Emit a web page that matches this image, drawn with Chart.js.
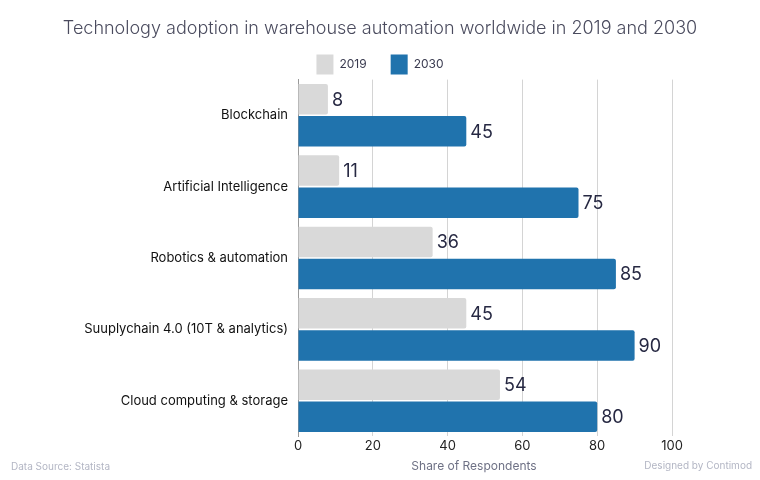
<!DOCTYPE html>
<html>
<head>
<meta charset="utf-8">
<script src="https://cdn.jsdelivr.net/npm/chart.js@4"></script>
<style>
  html, body { margin: 0; padding: 0; background: #fff; }
  #wrap { width: 760px; height: 480px; position: relative; }
</style>
</head>
<body>
<div id="wrap"><canvas id="main-chart"></canvas></div>
<script>
const categories = ['Blockchain', 'Artificial Intelligence', 'Robotics & automation', 'Suuplychain 4.0 (10T & analytics)', 'Cloud computing & storage'];
const values2019 = [8, 11, 36, 45, 54];
const values2030 = [45, 75, 85, 90, 80];
const xTicks = [0, 20, 40, 60, 80, 100];

const FONT = 'Inter, "Noto Sans", sans-serif';

const chart = new Chart(document.getElementById('main-chart'), {
  type: 'bar',
  data: {
    labels: categories,
    datasets: [
      { label: '2019', data: values2019, backgroundColor: '#d9d9d9', borderRadius: 2, borderSkipped: 'start' },
      { label: '2030', data: values2030, backgroundColor: '#2073ad', borderRadius: 2, borderSkipped: 'start' }
    ]
  },
  options: {
    indexAxis: 'y',
    responsive: true, maintainAspectRatio: false,
    animation: false,
    layout: { padding: { left: 0, right: 0, top: 4, bottom: 24 } },
    datasets: { bar: { barPercentage: 0.95, categoryPercentage: 0.9 } },
    plugins: {
      title: {
        display: true,
        text: 'Technology adoption in warehouse automation worldwide in 2019 and 2030',
        color: '#4a4b5e',
        font: { family: FONT, size: 18, weight: 300 },
        padding: { top: 14, bottom: -9 }
      },
      legend: {
        maxHeight: 49,
        labels: {
          boxWidth: 17, boxHeight: 20, color: '#3a3b50',
          font: { family: FONT, size: 12 }, padding: 24
        }
      },
      tooltip: { enabled: false }
    },
    scales: {
      x: {
        min: 0, max: 100,
        afterBuildTicks: s => { s.ticks = xTicks.map(v => ({ value: v })); },
        grid: { color: '#d4d4d4', drawTicks: false },
        border: { display: false },
        ticks: { color: '#222', font: { family: FONT, size: 13 }, padding: 2 }
      },
      y: {
        afterFit: s => { s.width = 298; },
        grid: { display: false, drawTicks: false },
        border: { color: '#999', width: 1 },
        ticks: { color: '#111', font: { family: FONT, size: 13 }, padding: 10 }
      },
      // empty right-hand gutter so title and legend stay centred on the page
      gutter: {
        axis: 'y', position: 'right', display: true,
        afterFit: s => { s.width = 88; },
        grid: { display: false, drawTicks: false },
        border: { display: false },
        ticks: { display: false }
      }
    }
  },
  plugins: [{
    id: 'barLabels',
    afterDatasetsDraw(ch) {
      const ctx = ch.ctx;
      ctx.save();
      ctx.font = '400 18px ' + FONT;
      ctx.fillStyle = '#262842';
      ctx.textAlign = 'left';
      ctx.textBaseline = 'middle';
      ch.data.datasets.forEach((ds, di) => {
        ch.getDatasetMeta(di).data.forEach((bar, i) => {
          ctx.fillText(String(ds.data[i]), bar.x + 4, bar.y + 1);
        });
      });

      // footer texts
      ctx.font = '400 12px ' + FONT;
      ctx.fillStyle = '#6e7185';
      ctx.textAlign = 'center';
      ctx.fillText('Share of Respondents', 474, 466);
      ctx.font = '400 10px ' + FONT;
      ctx.fillStyle = '#b3b6c4';
      ctx.textAlign = 'left';
      ctx.fillText('Data Source: Statista', 11, 467);
      ctx.textAlign = 'right';
      ctx.fillText('Designed by Contimod', 752, 466);
      ctx.restore();
    }
  }]
});
</script>
</body>
</html>
